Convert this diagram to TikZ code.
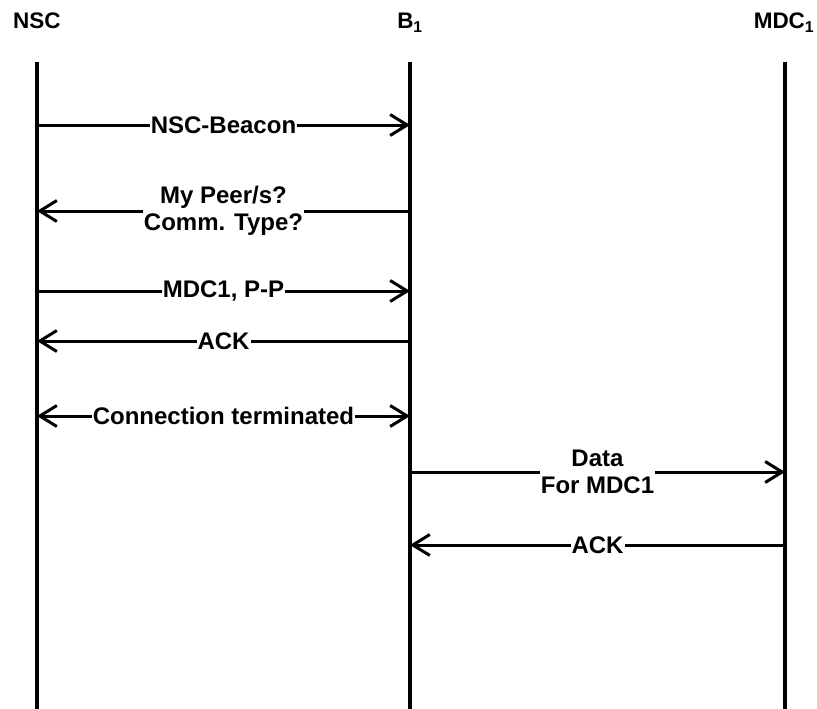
\documentclass[tikz,border=0pt]{standalone}
\usepackage{fontspec}
\setmainfont{Liberation Sans}
\usetikzlibrary{arrows.meta}
\begin{document}
\begin{tikzpicture}[x=1pt,y=-1pt,
  lifeline/.style={line width=4.5pt},
  barb/.tip={Straight Barb[length=17pt,width=21pt,line width=3pt]},
  msg/.style={line width=3pt,-barb},
  msgboth/.style={line width=3pt,barb-barb},
  lbl/.style={fill=white,inner xsep=1pt,inner ysep=0pt,align=center,
    font=\bfseries\fontsize{24}{27.5}\selectfont},
  head/.style={anchor=base,inner sep=0pt,font=\bfseries\fontsize{22.5}{27}\selectfont}]
  \useasboundingbox (0,0) rectangle (817,709);

  % participants
  \node[head] (hnsc) at (37,29) {NSC};
  \node[head] (hb)   at (410,29) {B\textsubscript{1}};
  \node[head] (hmdc) at (784,29) {MDC\textsubscript{1}};

  \coordinate (nsc) at (37,62);
  \coordinate (b)   at (410,62);
  \coordinate (mdc) at (785,62);
  \coordinate (nscend) at (37,709);
  \coordinate (bend)   at (410,709);
  \coordinate (mdcend) at (785,709);

  % lifelines
  \draw[lifeline] (nsc) -- (nscend);
  \draw[lifeline] (b) -- (bend);
  \draw[lifeline] (mdc) -- (mdcend);

  % messages
  \draw[msg] (nsc |- 0,125) -- node[lbl] {NSC-Beacon} (b |- 0,125);
  \draw[msg] (b |- 0,211) -- node[lbl] {My Peer/s?\\Comm. Type?} (nsc |- 0,211);
  \draw[msg] (nsc |- 0,291) -- node[lbl] {MDC1, P-P} (b |- 0,291);
  \draw[msg] (b |- 0,341) -- node[lbl] {ACK} (nsc |- 0,341);
  \draw[msgboth] (nsc |- 0,416) -- node[lbl] {Connection terminated} (b |- 0,416);
  \draw[msg] (b |- 0,472) -- node[lbl] {Data\\For MDC1} (mdc |- 0,472);
  \draw[msg] (mdc |- 0,545) -- node[lbl] {ACK} (b |- 0,545);
\end{tikzpicture}
\end{document}
